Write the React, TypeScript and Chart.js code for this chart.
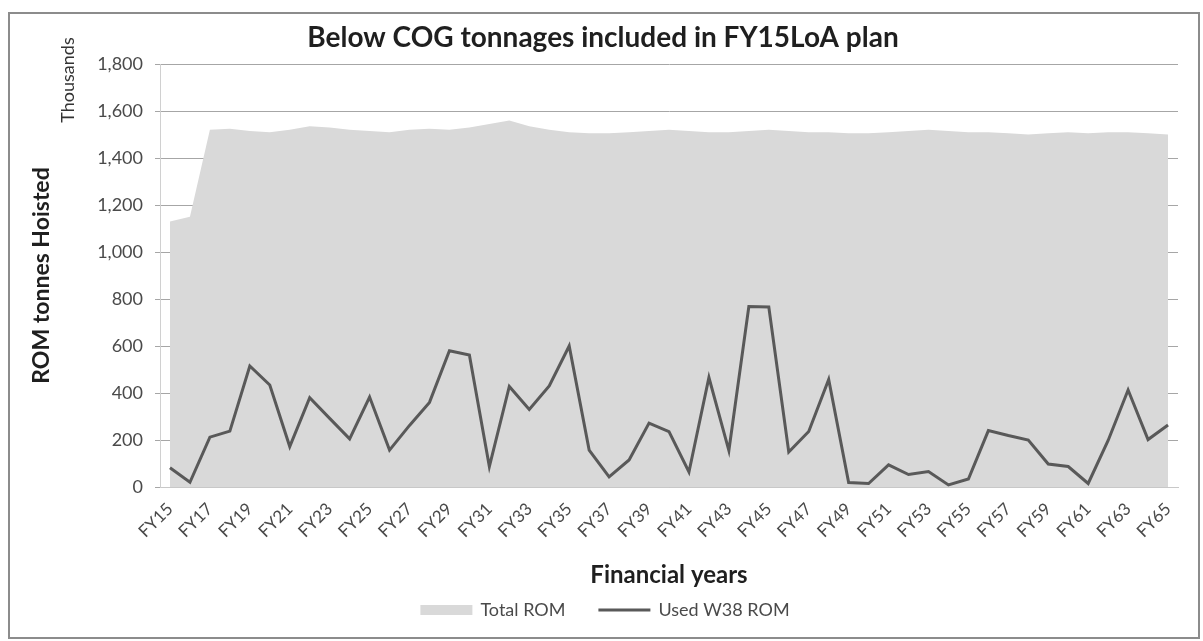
import React, { useEffect, useRef } from "react";
import { Chart, registerables } from "chart.js";

Chart.register(...registerables);

const years: string[] = [];
for (let y = 15; y <= 65; y++) years.push("FY" + y);

const totalRom = [
  1130, 1150, 1520, 1525, 1515, 1510, 1520, 1535, 1530, 1520,
  1515, 1510, 1520, 1525, 1520, 1530, 1545, 1560, 1535, 1520,
  1510, 1505, 1505, 1510, 1515, 1520, 1515, 1510, 1510, 1515,
  1520, 1515, 1510, 1510, 1505, 1505, 1510, 1515, 1520, 1515,
  1510, 1510, 1505, 1500, 1505, 1510, 1505, 1510, 1510, 1505, 1500,
];

const usedRom = [
  82, 20, 212, 238, 515, 434, 172, 380, 292, 205,
  383, 157, 262, 360, 580, 562, 87, 428, 330, 430,
  600, 157, 43, 115, 272, 236, 64, 466, 155, 768,
  766, 149, 236, 458, 19, 15, 94, 53, 66, 9,
  34, 240, 219, 200, 98, 87, 15, 198, 413, 202, 264,
];

const yTicks = { min: 0, max: 1800, step: 200 };

const chartTitle = "Below COG tonnages included in FY15LoA plan";
const yTitle = "ROM tonnes Hoisted";
const xTitle = "Financial years";
const unitLabel = "Thousands";
const seriesNames = ["Total ROM", "Used W38 ROM"];

const FONT = "Lato, 'Open Sans', sans-serif";
const AREA = "#d9d9d9";
const LINE = "#595959";
const TEXT = "#4a4a4a";

const decorPlugin = {
  id: "decor",
  beforeDraw(chart: any) {
    const ctx = chart.ctx;
    ctx.save();
    ctx.fillStyle = "#ffffff";
    ctx.fillRect(0, 0, chart.width, chart.height);
    ctx.restore();
  },
  afterDraw(chart: any) {
    const ctx = chart.ctx;
    ctx.save();
    ctx.strokeStyle = "#8c8c8c";
    ctx.lineWidth = 2;
    ctx.strokeRect(9, 13, 1190, 625);
    ctx.fillStyle = "#333333";
    ctx.font = `18px ${FONT}`;
    ctx.textAlign = "center";
    ctx.textBaseline = "middle";
    ctx.translate(68, 80);
    ctx.rotate(-Math.PI / 2);
    ctx.fillText(unitLabel, 0, 0);
    ctx.restore();

    ctx.save();
    ctx.font = `18px ${FONT}`;
    ctx.textBaseline = "middle";
    ctx.textAlign = "left";
    const sw = 52;
    const gapText = 8;
    const gapItem = 33;
    const w1 = ctx.measureText(seriesNames[0]).width;
    const w2 = ctx.measureText(seriesNames[1]).width;
    const total = sw + gapText + w1 + gapItem + sw + gapText + w2;
    const cx = 605;
    const cy = 610;
    let x = cx - total / 2;
    ctx.fillStyle = AREA;
    ctx.fillRect(x, cy - 5, sw, 10);
    x += sw + gapText;
    ctx.fillStyle = TEXT;
    ctx.fillText(seriesNames[0], x, cy);
    x += w1 + gapItem;
    ctx.strokeStyle = LINE;
    ctx.lineWidth = 3;
    ctx.beginPath();
    ctx.moveTo(x, cy);
    ctx.lineTo(x + sw, cy);
    ctx.stroke();
    x += sw + gapText;
    ctx.fillText(seriesNames[1], x, cy);
    ctx.restore();
  },
};

export default function App() {
  const canvasRef = useRef<HTMLCanvasElement | null>(null);

  useEffect(() => {
    document.body.style.margin = "0";
    const canvas = canvasRef.current;
    if (!canvas) return;
    const chart = new Chart(canvas, {
      type: "line",
      data: {
        labels: years,
        datasets: [
          {
            label: seriesNames[1],
            data: usedRom,
            borderColor: LINE,
            backgroundColor: LINE,
            borderWidth: 3,
            pointRadius: 0,
            fill: false,
            tension: 0,
            order: 0,
          },
          {
            label: seriesNames[0],
            data: totalRom,
            borderColor: AREA,
            backgroundColor: AREA,
            borderWidth: 0,
            pointRadius: 0,
            fill: "origin",
            tension: 0,
            order: 1,
          },
        ],
      },
      options: {
        responsive: false,
        animation: false,
        devicePixelRatio: 1,
        layout: { padding: { left: 28, right: 25, top: 0, bottom: 0 } },
        plugins: {
          legend: { display: false },
          tooltip: { enabled: false },
          title: {
            display: true,
            text: chartTitle,
            color: "#1f1f1f",
            font: { family: FONT, size: 28, weight: "bold" },
            padding: { top: 21, bottom: 9.4 },
          },
        },
        scales: {
          x: {
            type: "category",
            offset: true,
            grid: { display: false },
            border: { display: true, color: "#c8c8c8", width: 1 },
            ticks: {
              autoSkip: false,
              minRotation: 45,
              maxRotation: 45,
              color: TEXT,
              padding: 4,
              font: { family: FONT, size: 17 },
              callback: (_v: any, i: number) => (i % 2 === 0 ? years[i] : null),
            },
            title: {
              display: true,
              text: xTitle,
              color: "#1f1f1f",
              font: { family: FONT, size: 24, weight: "bold" },
              padding: { top: 0, bottom: 51.6 },
            },
            afterFit: (s: any) => {
              s.height = 154;
            },
          },
          y: {
            min: yTicks.min,
            max: yTicks.max,
            grid: {
              color: "#a6a6a6",
              lineWidth: 1,
              tickLength: 5,
              drawTicks: true,
            },
            border: { display: true, color: "#d0d0d0", width: 1 },
            ticks: {
              stepSize: yTicks.step,
              color: TEXT,
              padding: 12,
              font: { family: FONT, size: 18 },
              callback: (v: any) => Number(v).toLocaleString("en-US"),
            },
            title: {
              display: true,
              text: yTitle,
              color: "#1f1f1f",
              font: { family: FONT, size: 23, weight: "bold" },
              padding: { top: 0, bottom: 0 },
            },
            afterFit: (s: any) => {
              s.width = 132;
            },
          },
        },
      },
      plugins: [decorPlugin],
    });
    return () => chart.destroy();
  }, []);

  return (
    <div style={{ position: "absolute", left: 0, top: 0, width: 1203, height: 641 }}>
      <canvas ref={canvasRef} width={1203} height={641} style={{ width: 1203, height: 641 }} />
    </div>
  );
}
